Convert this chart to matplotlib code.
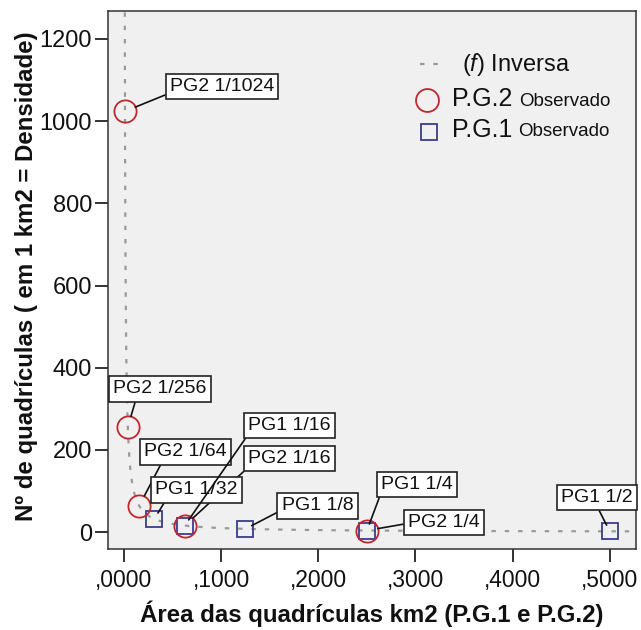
import numpy as np
import matplotlib
matplotlib.use("Agg")
import matplotlib.pyplot as plt
from matplotlib import font_manager
from matplotlib.ticker import FuncFormatter

# Observed grid sizes (km2) and number of cells per km2
pg2_labels = ["PG2 1/1024", "PG2 1/256", "PG2 1/64", "PG2 1/16", "PG2 1/4"]
pg2_area = [1 / 1024, 1 / 256, 1 / 64, 1 / 16, 1 / 4]
pg2_count = [1024, 256, 64, 16, 4]

pg1_labels = ["PG1 1/32", "PG1 1/16", "PG1 1/8", "PG1 1/4", "PG1 1/2"]
pg1_area = [1 / 32, 1 / 16, 1 / 8, 1 / 4, 1 / 2]
pg1_count = [32, 16, 8, 4, 2]

# Inverse model y = b0 + b1 / x
inv_b0 = 0.0
inv_b1 = 1.0

x_ticks = [0.0, 0.1, 0.2, 0.3, 0.4, 0.5]
y_ticks = [0, 200, 400, 600, 800, 1000, 1200]

def pick_font(names):
    for n in names:
        try:
            font_manager.findfont(font_manager.FontProperties(family=n),
                                  fallback_to_default=False)
            return n
        except Exception:
            continue
    return "DejaVu Sans"

BASE = pick_font(["Liberation Sans", "Arial"])

plt.rcParams["font.family"] = [BASE, "DejaVu Sans"]
plt.rcParams["mathtext.fontset"] = "custom"
plt.rcParams["mathtext.it"] = BASE + ":italic"
plt.rcParams["mathtext.rm"] = BASE

W, H = 641, 630
fig = plt.figure(figsize=(W / 100, H / 100), dpi=100)
ax = fig.add_axes([108 / W, 1 - 549 / H, (636 - 108) / W, (549 - 11) / H])
ax.set_facecolor("#f0f0f0")

xmin, xmax = -0.0165, 0.527
ymin, ymax = -41, 1268
ax.set_xlim(xmin, xmax)
ax.set_ylim(ymin, ymax)

# fitted inverse curve
xc = np.linspace(0.0007, xmax, 4000)
yc = inv_b0 + inv_b1 / xc
ax.plot(xc, yc, color="#9a9a9a", lw=1.6, ls=(0, (2, 4)), zorder=2)

red = "#c0272d"
navy = "#3b3b8f"
ax.plot(pg1_area, pg1_count, ls="none", marker="s", ms=11, mfc="none",
        mec=navy, mew=1.3, zorder=3)
ax.plot(pg2_area, pg2_count, ls="none", marker="o", ms=16, mfc="none",
        mec=red, mew=1.3, zorder=4)

# label offsets (pixels) and attachment point on the label box
label_layout = {
    "PG2 1/1024": ((97, 25), (0.0, 0.1)),
    "PG2 1/256": ((32, 38), (0.25, 0.0)),
    "PG2 1/64": ((46, 54), (0.23, 0.0)),
    "PG2 1/16": ((105, 67), (0.0, 0.0)),
    "PG2 1/4": ((77, 8), (0.0, 0.45)),
    "PG1 1/32": ((42, 29), (0.14, 0.0)),
    "PG1 1/16": ((105, 100), (0.0, 0.0)),
    "PG1 1/8": ((72, 23), (0.0, 0.25)),
    "PG1 1/4": ((50, 46), (0.0, 0.0)),
    "PG1 1/2": ((-13, 34), (0.5, 0.0)),
}

for labels, xs, ys, shrink in [(pg2_labels, pg2_area, pg2_count, 8),
                               (pg1_labels, pg1_area, pg1_count, 5)]:
    for lab, xv, yv in zip(labels, xs, ys):
        off, rel = label_layout[lab]
        ax.annotate(lab, xy=(xv, yv), xytext=off, textcoords="offset pixels",
                    ha="center", va="center", fontsize=14, color="#111111",
                    bbox=dict(boxstyle="square,pad=0.22", fc="white",
                              ec="#222222", lw=1.2),
                    arrowprops=dict(arrowstyle="-", color="#111111", lw=1.2,
                                    relpos=rel, shrinkA=0, shrinkB=shrink),
                    zorder=6)

ax.set_xticks(x_ticks)
ax.set_yticks(y_ticks)
ax.xaxis.set_major_formatter(FuncFormatter(lambda v, p: ("%.4f" % v).lstrip("0").replace(".", ",")))
ax.yaxis.set_major_formatter(FuncFormatter(lambda v, p: "%d" % v))
ax.tick_params(axis="both", direction="out", length=9.5, width=1.2,
               color="#111111", labelcolor="#111111")
ax.tick_params(axis="y", labelsize=17, pad=2)
ax.tick_params(axis="x", labelsize=16.5, pad=5)
for s in ax.spines.values():
    s.set_color("#333333")
    s.set_linewidth(1.1)

# legend drawn by hand so the suffix can be smaller
lx = lambda px: (px - 108) / (636 - 108)
ly = lambda py: (549 - py) / (549 - 11)
T = ax.transAxes
ax.plot([lx(420), lx(442)], [ly(64), ly(64)], color="#9a9a9a", lw=1.6,
        ls=(0, (2, 4)), transform=T, clip_on=False)
ax.text(lx(462), ly(65), r"($f$) Inversa", transform=T, fontsize=17,
        va="center", ha="left", color="#111111")
ax.plot([lx(427)], [ly(100)], marker="o", ms=16.5, mfc="none", mec=red,
        mew=1.3, transform=T, clip_on=False)
ax.text(lx(452), ly(99), "P.G.2", transform=T, fontsize=18,
        va="center", ha="left", color="#111111")
ax.text(lx(519), ly(101), "Observado", transform=T, fontsize=13.5,
        va="center", ha="left", color="#111111")
ax.plot([lx(429)], [ly(132)], marker="s", ms=11.5, mfc="none", mec=navy,
        mew=1.3, transform=T, clip_on=False)
ax.text(lx(452), ly(130), "P.G.1", transform=T, fontsize=18,
        va="center", ha="left", color="#111111")
ax.text(lx(518), ly(132), "Observado", transform=T, fontsize=13.5,
        va="center", ha="left", color="#111111")

fig.text(372 / W, 1 - 614 / H, "Área das quadrículas km2 (P.G.1 e P.G.2)",
         ha="center", va="center", fontsize=17.3, fontweight="bold",
         color="#111111")
fig.text(27 / W, 1 - 276 / H, "Nº de quadrículas ( em 1 km2 = Densidade)",
         ha="center", va="center", rotation=90, fontsize=17.3,
         fontweight="bold", color="#111111")

fig.savefig("out.png", dpi=100)
